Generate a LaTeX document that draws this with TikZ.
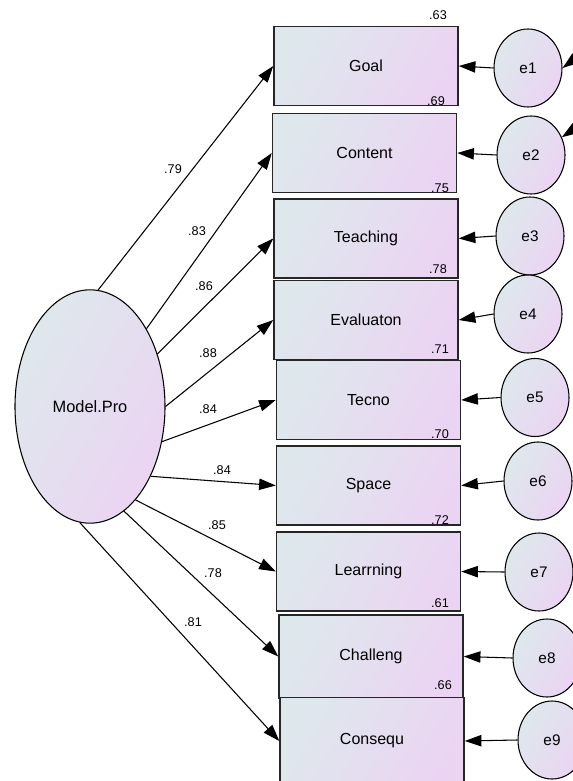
\documentclass[tikz,border=0pt]{standalone}
\usepackage{fontspec}
\setmainfont{Liberation Sans}
\usetikzlibrary{arrows.meta,shapes.geometric}

\definecolor{fillA}{RGB}{222,232,236}
\definecolor{fillB}{RGB}{235,212,243}

\begin{document}
\begin{tikzpicture}[x=0.75pt,y=-0.75pt,
  obs/.style={draw=black!85,line width=1.1pt,inner sep=0pt,
    minimum width=138pt,minimum height=59pt,
    left color=fillA,right color=fillB,shading angle=60,
    font=\fontsize{12}{14}\selectfont},
  lat/.style={ellipse,draw=black,line width=0.8pt,inner sep=0pt,
    left color=fillA,right color=fillB,shading angle=60},
  arr/.style={line width=0.8pt,-{Triangle[length=12.5pt,width=8.5pt]}},
  num/.style={inner sep=0pt,font=\fontsize{9.5}{11}\selectfont}]
\useasboundingbox (0,0) rectangle (573,781);
\clip (0,0) rectangle (573,781);
% indicators
\foreach \nm/\txt/\xx/\yy in {goal/Goal/366/66,content/Content/364.5/153,
  teach/Teaching/366/238.5,eval/Evaluaton/366/320,tecno/Tecno/368.5/400,
  space/Space/368.5/485.5,learn/Learrning/368.5/571.5}
  {\node[obs] (\nm) at (\xx,\yy) {\txt};}
\node[obs,minimum height=62pt] (chall) at (371,656.5) {Challeng};
\node[obs,minimum height=65pt] (conseq) at (372,741) {Consequ};
% latent factor
\node[lat,minimum width=112.5pt,minimum height=175pt,
  font=\fontsize{12.3}{14}\selectfont] (mp) at (90,406.5) {Model.Pro};
% errors
\foreach \nm/\xx/\yy/\bx in {e1/528/68/goal,e2/531/155/content,e3/530/236/teach,
  e4/528/314/eval,e5/535/397.5/tecno,e6/538/481/space,e7/539/572/learn,
  e8/547/658/chall,e9/552/740/conseq}
  {\node[lat,minimum width=51pt,minimum height=58.5pt,
    font=\fontsize{11.5}{13}\selectfont] (\nm) at (\xx,\yy) {\nm};
   \draw[arr] (\nm.west) -- (\bx.east);}
% loadings
\foreach \ang/\bx/\val/\xx/\yy in {86.6/goal/.79/173/169,54.5/content/.83/197/231,
  38.9/teach/.86/204/286,0/eval/.88/208/353,-26/tecno/.84/208/409,
  -49.4/space/.84/222/470,-64/learn/.85/217/525,-72.5/chall/.78/213/573,
  -95/conseq/.81/193/622}
  {\draw[arr] (mp.\ang) -- (\bx.west);
   \node[num] (l\bx) at (\xx,\yy) {\val};}
% squared multiple correlations
\foreach \bx/\val/\xx/\yy in {goal/.63/438/15,content/.69/436/101,teach/.75/440/188,
  eval/.78/438/269,tecno/.71/440/349,space/.70/440/434,learn/.72/440/520,
  chall/.61/440/603,conseq/.66/443/685}
  {\node[num] (r\bx) at (\xx,\yy) {\val};}
% covariance arcs cut off at the right edge
\coordinate (cv1) at (600,40);
\coordinate (cv2) at (600,112);
\draw[arr] (cv1) -- (e1.east);
\draw[arr] (cv2) -- (e2.30);
\end{tikzpicture}
\end{document}
